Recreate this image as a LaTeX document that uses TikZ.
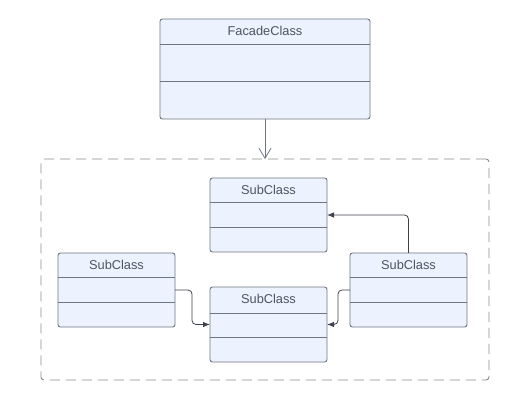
\documentclass[tikz,border=0pt]{standalone}
\usepackage{fontspec}
\setmainfont{Liberation Sans}
\usetikzlibrary{arrows.meta}
\definecolor{boxfill}{HTML}{EDF3FE}
\definecolor{boxline}{HTML}{6E7584}
\definecolor{boxtext}{HTML}{4D5360}
\definecolor{linkline}{HTML}{3D424C}
\definecolor{framegray}{HTML}{8A8A8A}
\tikzset{
  classbox/.style={draw=boxline,fill=boxfill,line width=0.9pt,rounded corners=2.5pt,inner sep=0pt,outer sep=0pt,minimum width=117pt,minimum height=74pt},
  classname/.style={text=boxtext,font=\fontsize{12.8}{14}\selectfont,inner sep=0pt},
  divider/.style={draw=boxline,line width=0.9pt},
  link/.style={draw=linkline,line width=0.8pt,rounded corners=4pt,-{Latex[length=7pt,width=5.5pt]}}
}
\begin{document}
\begin{tikzpicture}[x=1pt,y=-1pt]
\useasboundingbox (0,0) rectangle (528,409);
\node[draw=framegray,line width=0.9pt,dash pattern=on 10pt off 6pt,rounded corners=3pt,minimum width=448pt,minimum height=221pt,inner sep=0pt,outer sep=0pt] (subsystem) at (265,269.5) {};
\node[classbox,minimum width=210pt,minimum height=100pt] (facade) at (265,69) {};
\node[classbox] (subT) at (268.5,215) {};
\node[classbox] (subR) at (408.5,290) {};
\node[classbox,minimum height=75pt] (subM) at (268.5,324.5) {};
\node[classbox] (subL) at (116.5,290) {};
\node[classname] at ([yshift=-12pt]facade.north) {FacadeClass};
\node[classname] at ([yshift=-12pt]subT.north) {SubClass};\node[classname] at ([yshift=-12pt]subR.north) {SubClass};
\node[classname] at ([yshift=-12pt]subM.north) {SubClass};\node[classname] at ([yshift=-12pt]subL.north) {SubClass};
\draw[divider] ([yshift=-25pt]facade.north west) -- ([yshift=-25pt]facade.north east);
\draw[divider] ([yshift=-62pt]facade.north west) -- ([yshift=-62pt]facade.north east);
\draw[divider] ([yshift=-24pt]subT.north west) -- ([yshift=-24pt]subT.north east);\draw[divider] ([yshift=-49pt]subT.north west) -- ([yshift=-49pt]subT.north east);
\draw[divider] ([yshift=-24pt]subR.north west) -- ([yshift=-24pt]subR.north east);\draw[divider] ([yshift=-49pt]subR.north west) -- ([yshift=-49pt]subR.north east);
\draw[divider] ([yshift=-26pt]subM.north west) -- ([yshift=-26pt]subM.north east);\draw[divider] ([yshift=-50pt]subM.north west) -- ([yshift=-50pt]subM.north east);
\draw[divider] ([yshift=-24pt]subL.north west) -- ([yshift=-24pt]subL.north east);\draw[divider] ([yshift=-49pt]subL.north west) -- ([yshift=-49pt]subL.north east);
\draw[draw=boxline,line width=0.8pt,-{Straight Barb[length=10pt,width=12pt]}] (facade.south) -- (facade.south |- subsystem.north);
\draw[link] (subL.east) -- ++(17,0) |- (subM.west);
\draw[link] (subR.west) -- ++(-12,0) |- (subM.east);
\draw[link] (subR.north) |- (subT.east);
\end{tikzpicture}
\end{document}
